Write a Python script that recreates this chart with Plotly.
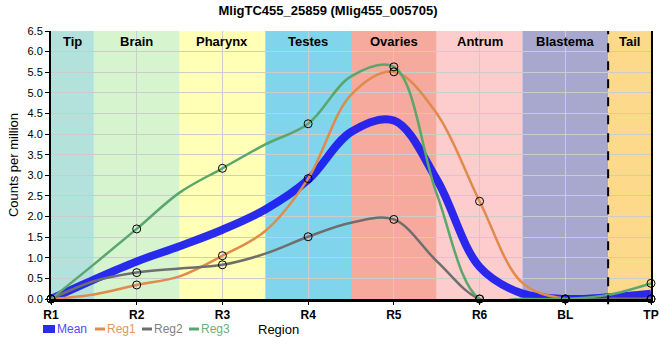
import plotly.graph_objects as go

# ---- data ----
tick_labels = ["R1", "R2", "R3", "R4", "R5", "R6", "BL", "TP"]
sample_pos = [0, 0.5, 1, 1.5, 2, 2.5, 3, 3.5, 4, 4.5, 5, 5.5, 6, 6.5, 7]
mean_vals = [0, 0.47, 0.91, 1.28, 1.68, 2.17, 2.89, 4.05, 4.33, 2.90, 0.78, 0.13, 0.0, 0.04, 0.13]
reg1_vals = [0, 0.11, 0.34, 0.55, 1.05, 1.65, 2.92, 4.95, 5.51, 4.50, 2.37, 0.39, 0.0, 0.0, 0.0]
reg2_vals = [0, 0.43, 0.64, 0.74, 0.83, 1.10, 1.51, 1.85, 1.93, 0.92, 0.0, 0.0, 0.0, 0.0, 0.0]
reg3_vals = [0, 0.84, 1.70, 2.58, 3.17, 3.75, 4.25, 5.40, 5.63, 2.55, 0.0, 0.0, 0.0, 0.10, 0.38]

region_names = ["Tip", "Brain", "Pharynx", "Testes", "Ovaries", "Antrum", "Blastema", "Tail"]
region_edges = [0, 0.5, 1.5, 2.5, 3.5, 4.5, 5.5, 6.5, 7]
region_colors = ["#b3e1dc", "#d6f5cf", "#ffffb5", "#80d5ec", "#f5aa9d", "#fdcdcd", "#a8a8cf", "#fdd98b"]

FONT = "Liberation Sans, Arial, sans-serif"

series = [
    ("Mean", mean_vals, "rgba(25,25,240,0.92)", 8, "#4d4dff"),
    ("Reg1", reg1_vals, "#e08a4c", 2.5, "#e8955a"),
    ("Reg2", reg2_vals, "#6e6e6e", 2.5, "#808080"),
    ("Reg3", reg3_vals, "#5aa66c", 2.5, "#66b27a"),
]

L, R, T, B = 51, 9, 31, 61
W, H = 660, 360
PW, PH = W - L - R, H - T - B


def px_x(px):
    return (px - L) / PW


def px_y(py):
    return (H - B - py) / PH


fig = go.Figure()
for name, vals, col, w, tcol in series:
    fig.add_trace(go.Scatter(
        x=sample_pos, y=vals, mode="lines",
        line=dict(shape="spline", smoothing=1, color=col, width=w),
        name=name, showlegend=False,
    ))

for vals in [reg1_vals, reg2_vals, reg3_vals]:
    fig.add_trace(go.Scatter(
        x=sample_pos[::2], y=vals[::2], mode="markers",
        marker=dict(symbol="circle-open", size=8, color="black", line=dict(width=1, color="black")),
        cliponaxis=False, showlegend=False, hoverinfo="skip",
    ))

shapes = []
for i, c in enumerate(region_colors):
    shapes.append(dict(type="rect", xref="x", yref="paper", x0=region_edges[i], x1=region_edges[i + 1],
                       y0=0, y1=1, fillcolor=c, line=dict(width=0), layer="below"))
shapes.append(dict(type="line", xref="x", yref="paper", x0=region_edges[7], x1=region_edges[7],
                   y0=-0.02, y1=1, line=dict(color="black", width=2, dash="dash"), layer="above"))

annotations = []
for i, n in enumerate(region_names):
    annotations.append(dict(x=(region_edges[i] + region_edges[i + 1]) / 2, y=px_y(41), xref="x", yref="paper",
                            text=n, showarrow=False, yanchor="middle",
                            font=dict(family=FONT, size=13, color="black", weight="bold")))
LEG_Y = 329
annotations.append(dict(x=px_x(278), y=px_y(LEG_Y), xref="paper", yref="paper", text="Region", showarrow=False,
                        xanchor="center", yanchor="middle", font=dict(family=FONT, size=13, color="black")))

# manual legend (swatch + coloured label)
legend_swatch_x = [43, 95, 142, 189]
legend_text_x = [56, 106, 153, 200]
for (name, vals, col, w, tcol), sx, tx in zip(series, legend_swatch_x, legend_text_x):
    sw = 12 if name == "Mean" else 10
    shapes.append(dict(type="line", xref="paper", yref="paper", x0=px_x(sx), x1=px_x(sx + sw),
                       y0=px_y(LEG_Y), y1=px_y(LEG_Y), line=dict(color=col, width=8 if name == "Mean" else 3),
                       layer="above"))
    annotations.append(dict(x=px_x(tx), y=px_y(LEG_Y), xref="paper", yref="paper", text=name, showarrow=False,
                            xanchor="left", yanchor="middle", borderpad=0,
                            font=dict(family=FONT, size=12, color=tcol)))

fig.update_layout(
    width=W, height=H,
    margin=dict(l=L, r=R, t=T, b=B),
    paper_bgcolor="white", plot_bgcolor="white",
    showlegend=False,
    title=dict(text="<b>MligTC455_25859 (Mlig455_005705)</b>", x=0.497, xanchor="center",
               y=1 - 10 / H, yanchor="middle", font=dict(family=FONT, size=13, color="black")),
    shapes=shapes, annotations=annotations,
    xaxis=dict(range=[0, 7], tickmode="array", tickvals=list(range(8)), ticktext=tick_labels,
               showgrid=True, gridcolor="#cccccc", gridwidth=1, zeroline=False, automargin=False,
               showline=True, linecolor="black", linewidth=2.5, ticks="outside", ticklen=3,
               tickcolor="black", tickfont=dict(family=FONT, size=12, color="black", weight="bold")),
    yaxis=dict(range=[0, 6.5], dtick=0.5, tick0=0, tickformat=".1f", automargin=False,
               showgrid=True, gridcolor="#cccccc", gridwidth=1, zeroline=False,
               showline=True, linecolor="black", linewidth=2, mirror=True, ticks="outside", ticklen=4,
               tickcolor="black", tickfont=dict(family=FONT, size=11, color="black"),
               title=dict(text="Counts per million", font=dict(family=FONT, size=13, color="black"), standoff=6)),
)

fig.write_html("out.html", config={"displayModeBar": False},
               post_script="document.body.style.margin='0';")
